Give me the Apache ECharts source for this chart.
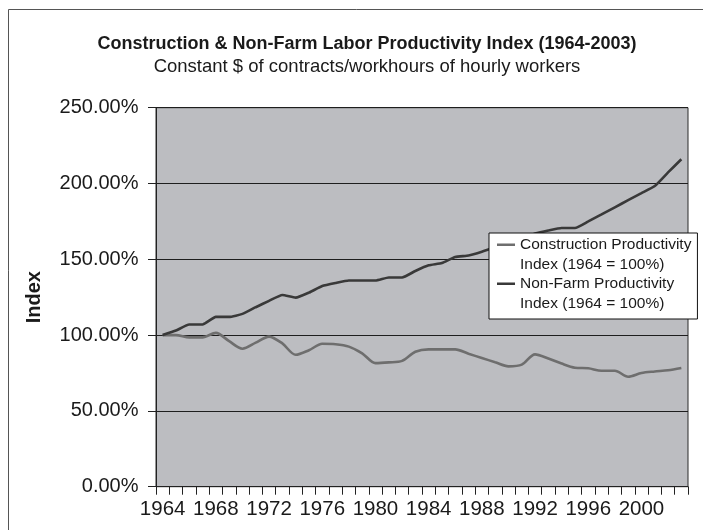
<!DOCTYPE html>
<html><head><meta charset="utf-8">
<script src="https://cdn.jsdelivr.net/npm/echarts@6/dist/echarts.min.js"></script>
<style>html,body{margin:0;padding:0;background:#fff}#c{width:703px;height:530px}</style>
</head><body><div id="c"></div>
<script>
const years = ['1964','1965','1966','1967','1968','1969','1970','1971','1972','1973','1974','1975','1976','1977','1978','1979','1980','1981','1982','1983','1984','1985','1986','1987','1988','1989','1990','1991','1992','1993','1994','1995','1996','1997','1998','1999','2000','2001','2002','2003'];
const construction = [100,100,98.5,98.5,101.5,96,91,95,99,94.5,87,90,94.3,94,92.4,88,81.5,82,83,89,90.6,90.6,90.6,87.7,84.9,82.1,79.4,80.5,87.3,84.6,81.2,78.5,78.1,76.5,76.5,72.5,75,76,76.8,78.3];
const nonFarm = [100,103,107,107,112,112,114,118.4,122.6,126.5,124.7,128,132.4,134.4,136,136,136,138,138,142.3,146,147.5,151.5,152.5,155,158,161,164,167,169,170.6,170.6,175,179.6,184.3,189,193.6,198.3,207.3,216];
const seriesNames = ['Construction Productivity\nIndex (1964 = 100%)','Non-Farm Productivity\nIndex (1964 = 100%)'];
const titleText = 'Construction & Non-Farm Labor Productivity Index (1964-2003)';
const subText = 'Constant $ of contracts/workhours of hourly workers';
const yAxisName = 'Index';

const FONT = '"Liberation Sans", Arial, sans-serif';
const chart = echarts.init(document.getElementById('c'), null, {renderer:'canvas'});
chart.setOption({
  animation:false,
  backgroundColor:'#fff',
  graphic:[{type:'rect',shape:{x:8.5,y:9.5,width:720,height:540},style:{fill:'none',stroke:'#555',lineWidth:1},silent:true,z:-10}],
  title:[
    {text:titleText,left:362,textAlign:'center',top:30,textStyle:{fontFamily:FONT,fontSize:18,fontWeight:'bold',color:'#1a1a1a'}},
    {text:subText,left:362,textAlign:'center',top:52,textStyle:{fontFamily:FONT,fontSize:18.5,fontWeight:'normal',color:'#1a1a1a'}}
  ],
  grid:{left:156,right:15,top:107.7,bottom:43.3,show:true,backgroundColor:'#bcbdc1',borderColor:'#2a2a2a',borderWidth:1},
  legend:{
    orient:'vertical',left:489,top:233,
    backgroundColor:'#fff',borderColor:'#111',borderWidth:1,
    padding:[2,6,6,8],itemGap:0,itemWidth:18,itemHeight:39,
    icon:'path://M0,0h0.01v0.01h-0.01zM0,8.5h18v2.6h-18zM0,38.99h0.01v0.01h-0.01z',
    textStyle:{fontFamily:FONT,fontSize:15.5,lineHeight:19.5,color:'#1a1a1a'},
    data:seriesNames
  },
  xAxis:{
    type:'category',data:years,boundaryGap:true,
    axisLine:{lineStyle:{color:'#222',width:1}},
    axisTick:{show:true,interval:0,length:8,lineStyle:{color:'#222'}},
    axisLabel:{interval:3,margin:12,fontFamily:FONT,fontSize:20.5,color:'#1a1a1a'},
    splitLine:{show:false}
  },
  yAxis:{
    type:'value',min:0,max:250,interval:50,
    name:yAxisName,nameLocation:'middle',nameGap:112,nameRotate:90,
    nameTextStyle:{fontFamily:FONT,fontSize:20,fontWeight:'bold',color:'#1a1a1a'},
    axisLine:{show:true,lineStyle:{color:'#222',width:1}},
    axisTick:{show:true,length:8,lineStyle:{color:'#222'}},
    axisLabel:{margin:17.5,fontFamily:FONT,fontSize:20,color:'#1a1a1a',formatter:v=>v.toFixed(2)+'%'},
    splitLine:{show:true,lineStyle:{color:'#1e1e1e',width:1}}
  },
  series:[
    {name:seriesNames[0],type:'line',data:construction,smooth:0.3,showSymbol:false,symbol:'none',
     lineStyle:{color:'#6e6e6e',width:2.6},itemStyle:{color:'#6e6e6e'}},
    {name:seriesNames[1],type:'line',data:nonFarm,smooth:0.15,showSymbol:false,symbol:'none',
     lineStyle:{color:'#393939',width:2.6},itemStyle:{color:'#393939'}}
  ]
});
</script></body></html>
